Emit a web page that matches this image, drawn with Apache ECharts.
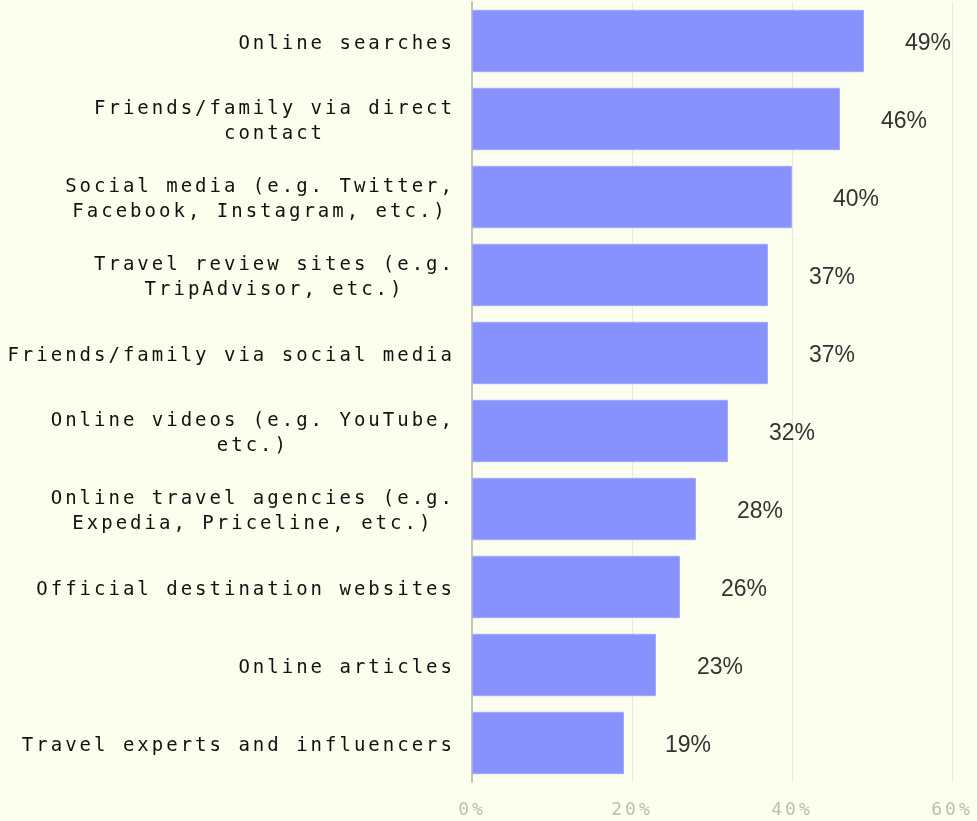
<!DOCTYPE html>
<html>
<head>
<meta charset="utf-8">
<title>Travel inspiration sources</title>
<script src="https://cdn.jsdelivr.net/npm/echarts@6/dist/echarts.min.js"></script>
<style>
  html, body { margin: 0; padding: 0; background: #fcffee; }
  #chart { width: 977px; height: 821px; }
</style>
</head>
<body>
<div id="chart"></div>
<script>
// Sources, listed top to bottom
const categories = [
  'Online searches',
  'Friends/family via direct\ncontact',
  'Social media (e.g. Twitter,\nFacebook, Instagram, etc.)',
  'Travel review sites (e.g.\nTripAdvisor, etc.)',
  'Friends/family via social media',
  'Online videos (e.g. YouTube,\netc.)',
  'Online travel agencies (e.g.\nExpedia, Priceline, etc.)',
  'Official destination websites',
  'Online articles',
  'Travel experts and influencers'
];
// Share of respondents, percent
const shares = [49, 46, 40, 37, 37, 32, 28, 26, 23, 19];
// Value axis ticks
const xTicks = [0, 20, 40, 60];

// Wide tracking for the monospace axis text: any canvas font using the
// mono family gets extra letter spacing, for measuring and drawing alike.
(function () {
  const proto = CanvasRenderingContext2D.prototype;
  const desc = Object.getOwnPropertyDescriptor(proto, 'font');
  if (!desc || !('letterSpacing' in proto)) return;
  Object.defineProperty(proto, 'font', {
    configurable: true,
    get() { return desc.get.call(this); },
    set(v) {
      desc.set.call(this, v);
      this.letterSpacing = /Mono/.test(v) ? '3px' : '0px';
    }
  });
})();

const MONO = 'DejaVu Sans Mono';

const chart = echarts.init(document.getElementById('chart'), null, { renderer: 'canvas' });

chart.setOption({
  backgroundColor: '#fcffee',
  animation: false,
  grid: { left: 472, right: 25, top: 2, bottom: 39, containLabel: false },
  xAxis: {
    type: 'value',
    min: xTicks[0],
    max: xTicks[xTicks.length - 1],
    interval: xTicks[1] - xTicks[0],
    axisLine: { show: false },
    axisTick: { show: false },
    splitLine: { show: true, lineStyle: { color: '#e9eadc', width: 1 } },
    axisLabel: {
      formatter: v => v + '%',
      color: '#bdbdb4',
      fontFamily: MONO,
      fontSize: 18,
      margin: 18
    }
  },
  yAxis: {
    type: 'category',
    inverse: true,
    data: categories,
    axisLine: { show: true, lineStyle: { color: '#c4c4bc', width: 2 } },
    axisTick: { show: false },
    axisLabel: {
      align: 'right',
      margin: 17,
      padding: [6, 0, 0, 0],
      // each line centred within the right-aligned label block
      formatter: v => v.split('\n').map(s => '{c|' + s + '}').join('\n'),
      rich: {
        c: {
          align: 'center',
          color: '#111111',
          fontFamily: MONO,
          fontSize: 19,
          lineHeight: 25
        }
      }
    }
  },
  series: [{
    type: 'bar',
    data: shares,
    barCategoryGap: '20%',
    itemStyle: { color: '#8892ff', borderColor: '#a3aaff', borderWidth: 1 },
    label: {
      show: true,
      position: 'right',
      distance: 41,
      offset: [0, 3],
      formatter: p => p.value + '%',
      color: '#333333',
      fontFamily: 'Liberation Sans, Arial, sans-serif',
      fontSize: 23
    }
  }]
});
</script>
</body>
</html>
